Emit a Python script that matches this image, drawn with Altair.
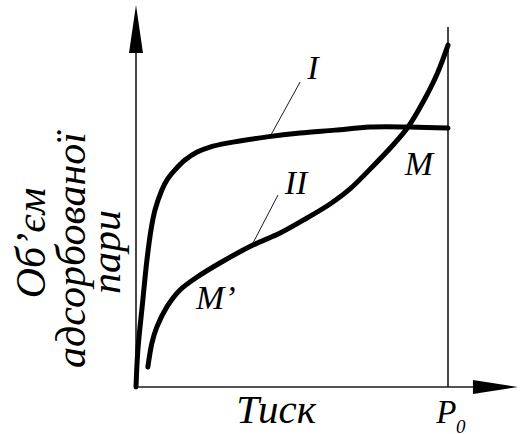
import altair as alt
import pandas as pd

# Isotherm I (monolayer type): relative pressure vs adsorbed volume
p_I = [0.0, 0.006, 0.022, 0.035, 0.048, 0.061, 0.083, 0.099, 0.125, 0.157,
       0.196, 0.237, 0.292, 0.420, 0.526, 0.638, 0.750, 0.878, 1.0]
v_I = [0.0, 0.142, 0.335, 0.488, 0.604, 0.681, 0.758, 0.796, 0.835, 0.873,
       0.904, 0.923, 0.938, 0.962, 0.977, 0.988, 1.0, 1.0, 0.996]

# Isotherm II (polymolecular type)
p_II = [0.038, 0.051, 0.067, 0.099, 0.141, 0.196, 0.269, 0.375, 0.462, 0.548,
        0.622, 0.686, 0.760, 0.821, 0.872, 0.920, 0.965, 1.0]
v_II = [0.077, 0.169, 0.231, 0.308, 0.373, 0.423, 0.477, 0.546, 0.592, 0.650,
        0.704, 0.762, 0.850, 0.927, 1.0, 1.096, 1.204, 1.315]

# Axes and the P0 line (data units)
axis_x = [0.0, 0.0, 1.0]
axis_y = [0.0, 0.0, 0.0]
axis_x2 = [0.0, 1.08, 1.0]
axis_y2 = [1.30, 0.0, 1.385]

# Leader lines from the curve labels
lead_x = [0.526, 0.455]
lead_y = [1.173, 0.738]
lead_x2 = [0.429, 0.375]
lead_y2 = [0.962, 0.554]

# Arrowheads: vertical (along y) and horizontal (along x)
up_y = [1.285, 1.469]
up_left = [-0.0224, 0.0]
up_right = [0.0224, 0.0]
right_x = [1.08, 1.224]
right_low = [-0.027, 0.0]
right_high = [0.027, 0.0]

# Curve labels
lab_text = ["I", "II", "M", "M\u2019"]
lab_x = [0.567, 0.513, 0.907, 0.256]
lab_y = [1.223, 0.781, 0.854, 0.338]

# Y title lines (rotated)
yt_text = ["Об\u2019єм", "адсорбованої", "пари"]
yt_x = [-0.333, -0.205, -0.093]
yt_y = [0.554, 0.527, 0.519]

xs = alt.Scale(domain=[-136 / 312, 390 / 312], nice=False, zero=False)
ys = alt.Scale(domain=[-47 / 260, 387 / 260], nice=False, zero=False)

enc_x = alt.X("x:Q", scale=xs, axis=None)
enc_y = alt.Y("y:Q", scale=ys, axis=None)

SERIF = "Liberation Serif"

df_I = pd.DataFrame({"x": p_I, "y": v_I, "i": range(len(p_I))})
df_II = pd.DataFrame({"x": p_II, "y": v_II, "i": range(len(p_II))})

axes = alt.Chart(pd.DataFrame({"x": axis_x, "y": axis_y, "x2": axis_x2, "y2": axis_y2})).mark_rule(
    color="#1a1a1a", strokeWidth=1.6
).encode(x=enc_x, y=enc_y, x2="x2:Q", y2="y2:Q")

leaders = alt.Chart(pd.DataFrame({"x": lead_x, "y": lead_y, "x2": lead_x2, "y2": lead_y2})).mark_rule(
    color="#1a1a1a", strokeWidth=1.0
).encode(x=enc_x, y=enc_y, x2="x2:Q", y2="y2:Q")

curve_I = alt.Chart(df_I).mark_line(
    color="black", strokeWidth=5, interpolate="catmull-rom", strokeCap="round"
).encode(x=enc_x, y=enc_y, order="i:Q")

curve_II = alt.Chart(df_II).mark_line(
    color="black", strokeWidth=5, interpolate="catmull-rom", strokeCap="round"
).encode(x=enc_x, y=enc_y, order="i:Q")

arrow_up = alt.Chart(pd.DataFrame({"y": up_y, "x": up_left, "x2": up_right})).mark_area(
    color="black", orient="horizontal", opacity=1
).encode(y=enc_y, x=enc_x, x2="x2:Q")

arrow_right = alt.Chart(pd.DataFrame({"x": right_x, "y": right_low, "y2": right_high})).mark_area(
    color="black", orient="vertical", opacity=1
).encode(x=enc_x, y=enc_y, y2="y2:Q")

labels = alt.Chart(pd.DataFrame({"t": lab_text, "x": lab_x, "y": lab_y})).mark_text(
    font=SERIF, fontStyle="italic", fontSize=34, baseline="middle"
).encode(x=enc_x, y=enc_y, text="t:N")

ytitle = alt.Chart(pd.DataFrame({"t": yt_text, "x": yt_x, "y": yt_y})).mark_text(
    font=SERIF, fontStyle="italic", fontSize=42, baseline="middle", angle=270
).encode(x=enc_x, y=enc_y, text="t:N")

xtitle = alt.Chart(pd.DataFrame({"t": ["Тиск"], "x": [0.449], "y": [-0.092]})).mark_text(
    font=SERIF, fontStyle="italic", fontSize=41, baseline="middle"
).encode(x=enc_x, y=enc_y, text="t:N")

p0 = alt.Chart(pd.DataFrame({"t": ["P"], "x": [0.962], "y": [-0.138]})).mark_text(
    font=SERIF, fontStyle="italic", fontSize=33, align="left", baseline="alphabetic"
).encode(x=enc_x, y=enc_y, text="t:N")

p0_sub = alt.Chart(pd.DataFrame({"t": ["0"], "x": [1.026], "y": [-0.177]})).mark_text(
    font=SERIF, fontStyle="italic", fontSize=19, align="left", baseline="alphabetic"
).encode(x=enc_x, y=enc_y, text="t:N")

chart = alt.layer(
    axes, leaders, curve_I, curve_II, arrow_up, arrow_right,
    labels, ytitle, xtitle, p0, p0_sub,
).properties(
    width=526, height=434, padding=0, autosize=alt.AutoSizeParams(type="none"),
    background="white",
).configure_view(stroke=None)

chart.save("out.html", embed_options={"renderer": "svg", "actions": False})
